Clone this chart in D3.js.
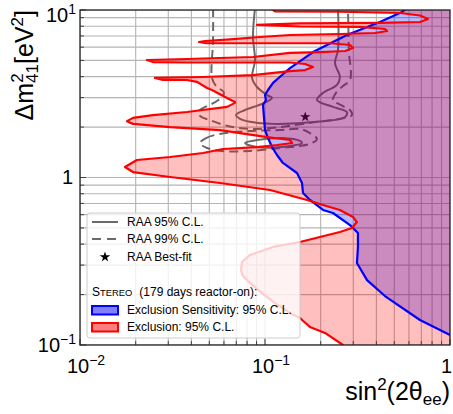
<!DOCTYPE html>
<html><head><meta charset="utf-8">
<script src="https://cdn.jsdelivr.net/npm/d3@7"></script>
<style>
body{margin:0;background:#fff}
svg{display:block}
text{font-family:"Liberation Sans",Arial,Helvetica,sans-serif;fill:#000}
</style>
</head><body>
<svg id="c" width="453" height="414"></svg>
<script>
// ---------------- data ----------------
const xTicks = [0.01, 0.1, 1];
const xTickLabels = [["10","\u22122"],["10","\u22121"],["1",""]];
const yTicks = [0.1, 1, 10];
const yTickLabels = [["10","\u22121"],["1",""],["10","1"]];

// STEREO exclusion 95% C.L. contour [sin2(2theta), dm2]
const exclusion95 = [
 [0.1038,10.57],[0.1132,9.80],[0.254,9.76],[0.537,9.60],[0.688,9.27],[0.760,8.84],[0.688,8.48],
 [0.418,8.37],[0.1545,8.31],[0.0905,8.14],[0.1545,7.97],[0.326,7.92],[0.445,7.70],[0.457,7.49],
 [0.393,7.29],[0.254,7.19],[0.1365,7.09],[0.094,6.90],[0.0647,6.67],[0.0474,6.53],[0.044,6.44],
 [0.0474,6.35],[0.0733,6.33],[0.2244,6.33],[0.288,6.18],[0.299,5.93],[0.271,5.69],[0.198,5.61],
 [0.1365,5.54],[0.0861,5.24],[0.0571,5.17],[0.0379,5.10],[0.023,5.03],[0.0248,4.89],[0.0379,4.86],
 [0.1365,4.86],[0.1645,4.76],[0.1818,4.57],[0.1645,4.38],[0.1365,4.32],[0.0861,4.09],[0.0462,3.98],
 [0.0254,3.93],[0.0281,3.82],[0.0379,3.82],[0.0429,3.72],[0.0486,3.42],[0.0517,3.33],[0.0623,2.98],
 [0.0688,2.82],[0.0688,2.79],[0.0623,2.64],[0.0379,2.46],[0.0248,2.36],[0.01934,2.27],[0.01795,2.17],
 [0.01934,2.09],[0.0307,2.00],[0.0571,1.92],[0.0733,1.84],[0.1025,1.744],[0.1365,1.674],[0.140,1.607],
 [0.1161,1.563],[0.0905,1.52],[0.0593,1.48],[0.0462,1.40],[0.0307,1.325],[0.0203,1.272],[0.0175,1.155],
 [0.01934,1.078],[0.0307,1.007],[0.0571,0.927],[0.1064,0.842],[0.1687,0.734],[0.2058,0.685],[0.254,0.640],
 [0.299,0.581],[0.314,0.542],[0.295,0.499],[0.254,0.473],[0.198,0.441],[0.1545,0.412],[0.1105,0.385],
 [0.083,0.345],[0.0751,0.313],[0.0742,0.280],[0.076,0.258],[0.083,0.234],[0.0963,0.204],[0.1132,0.178],
 [0.1365,0.155],[0.1545,0.145],[0.175,0.128],[0.211,0.118],[0.264,0.100],[0.281,0.0933]
];

// STEREO exclusion sensitivity 95% C.L.
const sensitivity95 = [
 [0.586,10.28],[0.550,9.73],[0.418,8.48],[0.277,7.09],[0.1818,5.61],[0.1365,4.50],[0.1236,4.09],
 [0.1105,3.67],[0.1038,3.33],[0.100,3.11],[0.1012,2.90],[0.0975,2.71],[0.0988,2.27],[0.100,1.92],
 [0.1038,1.72],[0.1091,1.52],[0.1161,1.362],[0.125,1.221],[0.1489,1.064],[0.1585,0.927],[0.1605,0.808],
 [0.175,0.734],[0.2058,0.640],[0.233,0.614],[0.288,0.520],[0.318,0.466],[0.318,0.385],[0.314,0.309],
 [0.356,0.244],[0.445,0.196],[0.688,0.141],[1.0,0.1148],[1.1,0.105]
];

// RAA allowed regions
const raa95Main = [
 [0.0883,10.28],[0.0861,6.90],[0.0883,5.03],[0.0851,3.93],[0.0905,3.47],[0.1025,3.11],[0.1091,2.98],
 [0.0963,2.75],[0.078,2.53],[0.0697,2.36],[0.0733,2.24],[0.083,2.15],[0.1105,2.09],[0.191,2.15],
 [0.271,2.30],[0.277,2.46],[0.233,2.64],[0.191,2.90],[0.2058,3.20],[0.245,3.57],[0.254,3.98],
 [0.239,4.83],[0.248,5.77],[0.248,10.28]
];
const raa95Island = [
 [0.078,1.607],[0.0905,1.674],[0.125,1.72],[0.1545,1.652],[0.1585,1.607],[0.1365,1.542],[0.0905,1.52]
];
const raa99Main = [
 [0.0524,10.28],[0.0524,6.62],[0.0517,3.93],[0.0543,3.52],[0.0600,3.20],[0.055,2.86],[0.0486,2.67],
 [0.044,2.50],[0.0445,2.33],[0.0504,2.20],[0.0631,2.03],[0.083,1.95],[0.1205,2.00],[0.175,2.12],
 [0.2244,2.20],[0.271,2.27],[0.295,2.36],[0.288,2.53],[0.264,2.67],[0.233,2.90],[0.242,3.20],
 [0.264,3.52],[0.288,3.82],[0.284,5.77],[0.281,10.28]
];
const raa99Island = [
 [0.0445,1.607],[0.048,1.72],[0.0571,1.82],[0.083,1.895],[0.1205,1.92],[0.1545,1.95],[0.175,1.84],
 [0.191,1.70],[0.1795,1.607],[0.1545,1.542],[0.1205,1.50],[0.083,1.44],[0.0586,1.44],[0.0486,1.50]
];
const raaBestFit = [0.165, 2.3];

const legendLines = ["RAA 95% C.L.","RAA 99% C.L.","RAA Best-fit"];
const legendPatches = ["Exclusion Sensitivity: 95% C.L.","Exclusion: 95% C.L."];

// ---------------- drawing ----------------
const L=80, R=450, T=10, B=345;
const x = d3.scaleLog().domain([0.01,1]).range([L,R]);
const y = d3.scaleLog().domain([0.1,10]).range([B,T]);
const svg = d3.select("#c");
svg.append("defs").append("clipPath").attr("id","clip")
  .append("rect").attr("x",L).attr("y",T).attr("width",R-L).attr("height",B-T);
const plot = svg.append("g").attr("clip-path","url(#clip)");

// grid
const gx = x.ticks(), gy = y.ticks();
plot.append("g").selectAll("line").data(gx).join("line")
  .attr("x1",d=>x(d)).attr("x2",d=>x(d)).attr("y1",T).attr("y2",B)
  .attr("stroke","#b4b4b4").attr("stroke-width",1.1);
plot.append("g").selectAll("line").data(gy).join("line")
  .attr("y1",d=>y(d)).attr("y2",d=>y(d)).attr("x1",L).attr("x2",R)
  .attr("stroke","#b4b4b4").attr("stroke-width",1.1);

const lin = d3.line().x(d=>x(d[0])).y(d=>y(d[1]));
const smooth = d3.line().x(d=>x(d[0])).y(d=>y(d[1])).curve(d3.curveCatmullRom.alpha(0.5));
const smoothClosed = d3.line().x(d=>x(d[0])).y(d=>y(d[1])).curve(d3.curveCatmullRomClosed.alpha(0.5));

// RAA contours (drawn below the fills)
const raaCol = "#6a6a6a";
plot.append("path").attr("d",smooth(raa95Main)).attr("fill","none").attr("stroke",raaCol).attr("stroke-width",2);
plot.append("path").attr("d",smoothClosed(raa95Island)).attr("fill","none").attr("stroke",raaCol).attr("stroke-width",2);
plot.append("path").attr("d",smooth(raa99Main)).attr("fill","none").attr("stroke",raaCol).attr("stroke-width",2).attr("stroke-dasharray","9,5");
plot.append("path").attr("d",smoothClosed(raa99Island)).attr("fill","none").attr("stroke",raaCol).attr("stroke-width",2).attr("stroke-dasharray","9,5");
plot.append("path").attr("d",d3.symbol(d3.symbolStar,34)())
  .attr("transform",`translate(${x(raaBestFit[0])},${y(raaBestFit[1])})`).attr("fill","#000");

// fills
const xFar = x.domain()[1]*1.6, yTop = y.domain()[1]*1.3, yBot = y.domain()[0]*0.8;
const sensPoly = sensitivity95.concat([[xFar, sensitivity95[sensitivity95.length-1][1]],[xFar,yBot],[xFar,yTop],[sensitivity95[0][0],yTop]]);
const exclPoly = exclusion95.concat([[exclusion95[exclusion95.length-1][0],yBot],[xFar,yBot],[xFar,yTop],[exclusion95[0][0],yTop]]);
plot.append("path").attr("d",lin(sensPoly)+"Z").attr("fill","rgba(0,0,255,0.27)");
plot.append("path").attr("d",lin(exclPoly)+"Z").attr("fill","rgba(255,0,0,0.25)");

// boundary lines
plot.append("path").attr("d",lin(sensitivity95)).attr("fill","none").attr("stroke","#0000ff").attr("stroke-width",2.2).attr("stroke-linejoin","round");
plot.append("path").attr("d",lin(exclusion95)).attr("fill","none").attr("stroke","#ff0000").attr("stroke-width",2.2).attr("stroke-linejoin","round");

// ticks (inward)
const isMajor = d => Math.abs(Math.log10(d) - Math.round(Math.log10(d))) < 1e-9;
svg.append("g").selectAll("line").data(gx).join("line")
  .attr("x1",d=>x(d)).attr("x2",d=>x(d)).attr("y1",B).attr("y2",d=>B-(isMajor(d)?6:4))
  .attr("stroke","#444").attr("stroke-width",1);
svg.append("g").selectAll("line").data(gy).join("line")
  .attr("y1",d=>y(d)).attr("y2",d=>y(d)).attr("x1",L).attr("x2",d=>L+(isMajor(d)?6:4))
  .attr("stroke","#444").attr("stroke-width",1);

// frame
svg.append("rect").attr("x",L).attr("y",T).attr("width",R-L).attr("height",B-T)
  .attr("fill","none").attr("stroke","#222").attr("stroke-width",1.3);

// tick labels
xTicks.forEach((v,i)=>{
  const lab = xTickLabels[i];
  const last = i===xTicks.length-1;
  const t = svg.append("text").attr("x",x(v)+(lab[1]?6:(last?-3.5:0))).attr("y",373)
    .attr("text-anchor","middle").attr("font-size",20);
  t.append("tspan").text(lab[0]);
  if (lab[1]) t.append("tspan").attr("font-size",14).attr("dy",-8).text(lab[1]);
});
yTicks.forEach((v,i)=>{
  const lab = yTickLabels[i];
  const off = i===yTicks.length-1 ? 11.5 : 6.5;
  const t = svg.append("text").attr("x",lab[1]?76:73).attr("y",y(v)+off)
    .attr("text-anchor","end").attr("font-size",20);
  t.append("tspan").text(lab[0]);
  if (lab[1]) t.append("tspan").attr("font-size",14).attr("dy",-8).text(lab[1]);
});

// axis labels
const xl = svg.append("text").attr("x",R).attr("y",400).attr("text-anchor","end").attr("font-size",25);
xl.append("tspan").text("sin");
xl.append("tspan").attr("font-size",17).attr("dy",-10).text("2");
xl.append("tspan").attr("dy",10).text("(2\u03b8");
xl.append("tspan").attr("font-size",17).attr("dy",5).text("ee");
xl.append("tspan").attr("dy",-5).text(")");

const yl = svg.append("text").attr("transform",`translate(33,${T}) rotate(-90)`)
  .attr("text-anchor","end").attr("font-size",25);
yl.append("tspan").text("\u0394m");
yl.append("tspan").attr("font-size",17).attr("dy",-10).text("2");
yl.append("tspan").attr("font-size",17).attr("dx",-9.5).attr("dy",15).text("41");
yl.append("tspan").attr("dy",-5).text("[eV");
yl.append("tspan").attr("font-size",17).attr("dy",-10).text("2");
yl.append("tspan").attr("dy",10).text("]");

// legend
const lg = svg.append("g");
lg.append("rect").attr("x",87).attr("y",213).attr("width",213).attr("height",125).attr("rx",3)
  .attr("fill","rgba(255,255,255,0.8)").attr("stroke","#cccccc").attr("stroke-width",1);
const rowY = [222, 239, 257];
lg.append("line").attr("x1",92).attr("x2",118).attr("y1",rowY[0]).attr("y2",rowY[0]).attr("stroke",raaCol).attr("stroke-width",2);
lg.append("line").attr("x1",92).attr("x2",118).attr("y1",rowY[1]).attr("y2",rowY[1]).attr("stroke",raaCol).attr("stroke-width",2).attr("stroke-dasharray","9,6");
lg.append("path").attr("d",d3.symbol(d3.symbolStar,34)()).attr("transform",`translate(105,${rowY[2]})`).attr("fill","#000");
legendLines.forEach((s,i)=>{
  lg.append("text").attr("x",127).attr("y",rowY[i]+4.2).attr("font-size",12).attr("fill","#222").text(s);
});
const st = lg.append("text").attr("x",92).attr("y",296).attr("font-size",12).attr("fill","#222");
st.append("tspan").text("S");
st.append("tspan").attr("font-size",9.4).text("TEREO");
st.append("tspan").attr("dx",7).text("(179 days reactor-on):");
const patchY = [306, 323];
const patchFill = ["rgba(0,0,255,0.5)","rgba(255,0,0,0.5)"];
const patchStroke = ["#0000ff","#ff0000"];
legendPatches.forEach((s,i)=>{
  lg.append("rect").attr("x",92).attr("y",patchY[i]).attr("width",26).attr("height",8.5)
    .attr("fill",patchFill[i]).attr("stroke",patchStroke[i]).attr("stroke-width",2);
  lg.append("text").attr("x",127).attr("y",patchY[i]+8.3).attr("font-size",12).attr("fill","#222").text(s);
});
</script>
</body></html>
